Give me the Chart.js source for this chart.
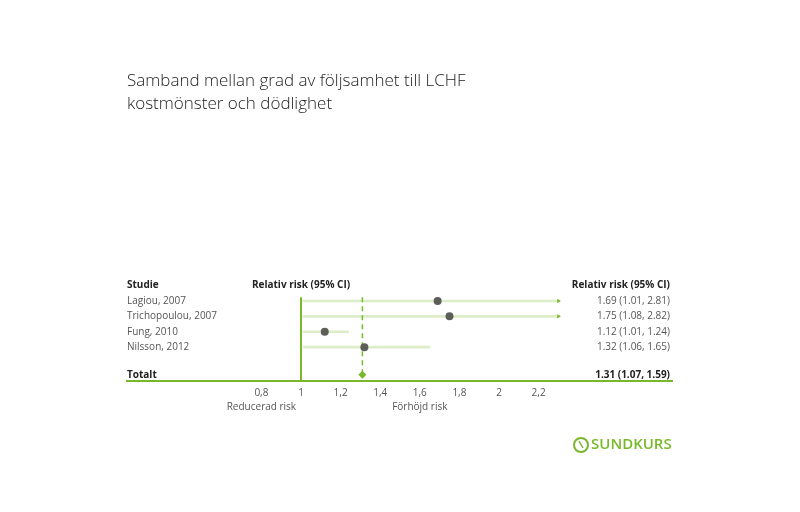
<!DOCTYPE html>
<html>
<head>
<meta charset="utf-8">
<script src="https://cdn.jsdelivr.net/npm/chart.js@4/dist/chart.umd.min.js"></script>
<style>
  html, body { margin: 0; padding: 0; background: #fff; }
  #wrap { width: 800px; height: 512px; }
</style>
</head>
<body>
<div id="wrap"><canvas id="forest-chart"></canvas></div>
<script>
// Forest plot data
const studies = ["Lagiou, 2007", "Trichopoulou, 2007", "Fung, 2010", "Nilsson, 2012"];
const relRisk = [1.69, 1.75, 1.12, 1.32];
// CI as drawn in the picture (lower ends start at the 1-line, upper ends clipped at 2.3 get an arrow)
const ciLow = [1.01, 1.01, 1.01, 1.01];
const ciHigh = [2.3, 2.3, 1.24, 1.65];
const clipped = [true, true, false, false];
const rrLabels = ["1.69 (1.01, 2.81)", "1.75 (1.08, 2.82)", "1.12 (1.01, 1.24)", "1.32 (1.06, 1.65)"];
const rowPos = [1, 2, 3, 4];

const totalRisk = 1.31;
const totalLabel = "1.31 (1.07, 1.59)";
const totalPos = 5.8;
const headerPos = 0;

const xTicks = [0.8, 1, 1.2, 1.4, 1.6, 1.8, 2, 2.2];
const riskNotes = [
  { text: "Reducerad risk", at: 0.8 },
  { text: "Förhöjd risk", at: 1.6 },
];

const green = "#79b82b";
const paleGreen = "#dcedc8";
const dotGrey = "#5d5e5a";
const textGrey = "#555555";
const dark = "#222222";
const font = '"Open Sans", "Noto Sans", sans-serif';

// text columns, risk notes and logo
const forestText = {
  id: "forestText",
  afterDraw(chart) {
    const { ctx, chartArea, scales: { x, y } } = chart;
    const left = chartArea.left;
    const right = chartArea.right - 2;
    ctx.save();
    ctx.textBaseline = "middle";

    // headers
    ctx.fillStyle = dark;
    ctx.font = "bold 10px " + font;
    ctx.textAlign = "left";
    ctx.fillText("Studie", left, y.getPixelForValue(headerPos));
    ctx.textAlign = "center";
    ctx.fillText("Relativ risk (95% CI)", x.getPixelForValue(1), y.getPixelForValue(headerPos));
    ctx.textAlign = "right";
    ctx.fillText("Relativ risk (95% CI)", right, y.getPixelForValue(headerPos));

    // study rows
    ctx.font = "10px " + font;
    ctx.fillStyle = textGrey;
    studies.forEach((name, i) => {
      const py = y.getPixelForValue(rowPos[i]);
      ctx.textAlign = "left";
      ctx.fillText(name, left, py);
      ctx.textAlign = "right";
      ctx.fillText(rrLabels[i], right, py);
    });

    // total row
    ctx.font = "bold 10px " + font;
    ctx.fillStyle = dark;
    ctx.textAlign = "left";
    ctx.fillText("Totalt", left, y.getPixelForValue(totalPos));
    ctx.textAlign = "right";
    ctx.fillText(totalLabel, right, y.getPixelForValue(totalPos));

    // reduced / increased risk notes
    ctx.font = "10px " + font;
    ctx.fillStyle = textGrey;
    ctx.textAlign = "center";
    riskNotes.forEach((n) => {
      ctx.fillText(n.text, x.getPixelForValue(n.at), chartArea.bottom + 26);
    });

    // SUNDKURS logo
    const lx = 581, ly = 445;
    ctx.strokeStyle = green;
    ctx.lineWidth = 2;
    ctx.beginPath();
    ctx.arc(lx, ly, 7, 0, Math.PI * 2);
    ctx.stroke();
    ctx.lineWidth = 1.5;
    ctx.beginPath();
    ctx.moveTo(lx - 2, ly - 4);
    ctx.lineTo(lx + 2, ly + 3);
    ctx.stroke();
    ctx.fillStyle = green;
    ctx.font = "600 15px " + font;
    ctx.textAlign = "left";
    ctx.fillText("SUNDKURS", lx + 10, ly);

    ctx.restore();
  },
};

const ctxEl = document.getElementById("forest-chart");
const forestChart = new Chart(ctxEl, {
  type: "bar",
  data: {
    datasets: [
      {
        // confidence intervals as floating bars
        label: "CI",
        data: studies.map((s, i) => ({ x: [ciLow[i], ciHigh[i]], y: rowPos[i] })),
        backgroundColor: paleGreen,
        borderWidth: 0,
        barThickness: 2,
        order: 5,
      },
      {
        type: "line",
        label: "No effect",
        data: [{ x: 1, y: 0.75 }, { x: 1, y: 6.25 }],
        borderColor: green,
        borderWidth: 2,
        pointRadius: 0,
        order: 4,
      },
      {
        type: "line",
        label: "Total line",
        data: [{ x: totalRisk, y: 0.75 }, { x: totalRisk, y: totalPos }],
        borderColor: green,
        borderWidth: 1.5,
        borderDash: [5, 4],
        pointRadius: 0,
        order: 3,
      },
      {
        type: "scatter",
        label: "Arrows",
        data: studies
          .map((s, i) => (clipped[i] ? { x: ciHigh[i], y: rowPos[i] } : null))
          .filter((d) => d),
        pointStyle: "triangle",
        rotation: 90,
        pointRadius: 2.5,
        backgroundColor: green,
        borderColor: green,
        borderWidth: 0,
        order: 2,
      },
      {
        type: "scatter",
        label: "Relative risk",
        data: studies.map((s, i) => ({ x: relRisk[i], y: rowPos[i] })),
        pointRadius: 4,
        backgroundColor: dotGrey,
        borderWidth: 0,
        order: 1,
      },
      {
        type: "scatter",
        label: "Total",
        data: [{ x: totalRisk, y: totalPos }],
        pointStyle: "rectRot",
        pointRadius: 4,
        backgroundColor: green,
        borderWidth: 0,
        order: 0,
      },
    ],
  },
  options: {
    responsive: true,
    maintainAspectRatio: false,
    animation: false,
    indexAxis: "y",
    layout: {
      padding: { left: 127, right: 128, top: 70, bottom: 0 },
    },
    scales: {
      x: {
        type: "linear",
        min: 0.1212,
        max: 2.8737,
        afterBuildTicks: (scale) => {
          scale.ticks = xTicks.map((v) => ({ value: v }));
        },
        afterFit: (scale) => {
          scale.height = 131;
        },
        grid: { display: false, drawTicks: false },
        border: { color: green, width: 2 },
        ticks: {
          padding: 6,
          color: textGrey,
          font: { family: font, size: 10 },
          callback: (v) => String(v).replace(".", ","),
        },
      },
      y: {
        type: "linear",
        reverse: true,
        offset: false,
        min: -0.5,
        max: 6.2,
        display: false,
      },
    },
    plugins: {
      legend: { display: false },
      tooltip: { enabled: false },
      title: {
        display: true,
        text: ["Samband mellan grad av följsamhet till LCHF", "kostmönster och dödlighet"],
        align: "start",
        color: dark,
        font: { family: font, size: 17, weight: 300, lineHeight: 1.35 },
        padding: { top: 0, bottom: 162 },
      },
    },
  },
  plugins: [forestText],
});
</script>
</body>
</html>
